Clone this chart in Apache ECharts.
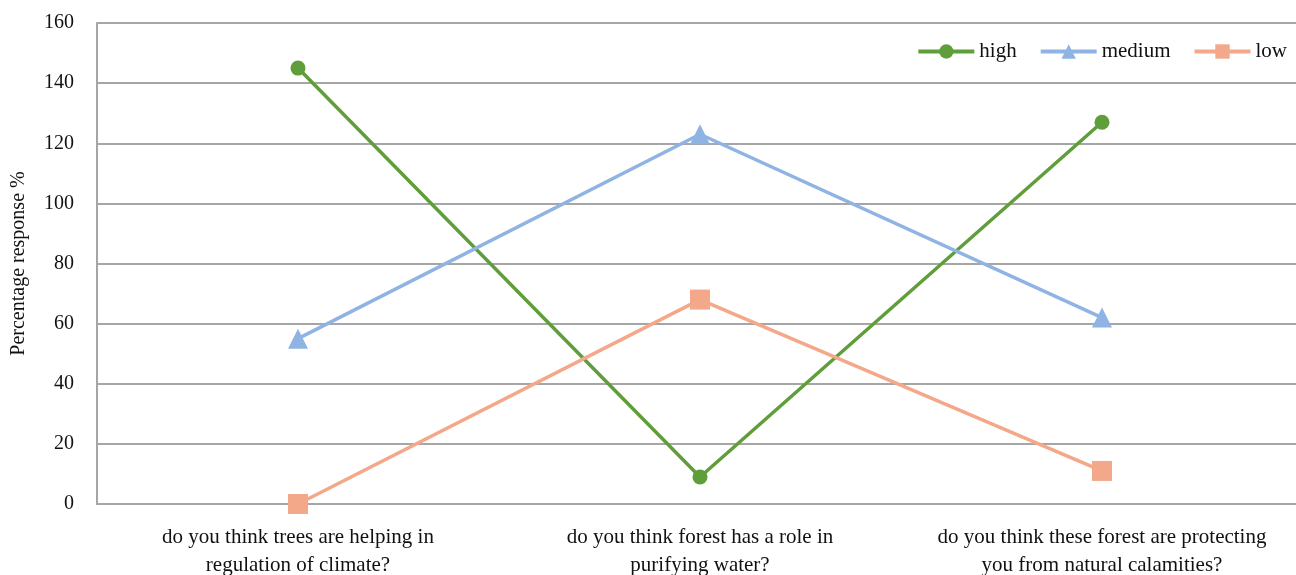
<!DOCTYPE html>
<html>
<head>
<meta charset="utf-8">
<script src="https://cdn.jsdelivr.net/npm/echarts@6/dist/echarts.min.js"></script>
<style>html,body{margin:0;padding:0;background:#fff;}#c{width:1296px;height:575px;}</style>
</head>
<body>
<div id="c"></div>
<script>
const categories = [
  "do you think trees are helping in\nregulation of climate?",
  "do you think forest has a role in\npurifying water?",
  "do you think these forest are protecting\nyou from natural calamities?"
];
const high = [145, 9, 127];
const medium = [55, 123, 62];
const low = [0, 68, 11];
const yTicks = [0, 20, 40, 60, 80, 100, 120, 140, 160];

const font = "'Liberation Serif','Times New Roman',serif";
const chart = echarts.init(document.getElementById('c'), null, {renderer: 'canvas'});
chart.setOption({
  animation: false,
  backgroundColor: '#fff',
  textStyle: {fontFamily: font},
  legend: {
    right: 4, top: 36,
    itemWidth: 56, itemHeight: 18, itemGap: 22,
    lineStyle: {width: 4},
    textStyle: {fontFamily: font, fontSize: 21, color: '#111'},
    data: ['high', 'medium', 'low']
  },
  grid: {left: 97, right: -7, top: 23, bottom: 71, containLabel: false, outerBoundsMode: 'none'},
  xAxis: {
    type: 'category',
    data: categories,
    boundaryGap: true,
    axisLine: {show: true, lineStyle: {color: '#a6a6a6', width: 2}},
    axisTick: {show: false},
    axisLabel: {fontFamily: font, fontSize: 21, color: '#111', lineHeight: 28, margin: 19, interval: 0}
  },
  yAxis: {
    type: 'value',
    min: yTicks[0], max: yTicks[yTicks.length - 1], interval: 20,
    name: 'Percentage response %',
    nameLocation: 'middle',
    nameGap: 68,
    nameTextStyle: {fontFamily: font, fontSize: 20, color: '#111'},
    axisLine: {show: true, lineStyle: {color: '#a6a6a6', width: 2}},
    axisTick: {show: false},
    splitLine: {show: true, lineStyle: {color: '#a6a6a6', width: 2}},
    axisLabel: {fontFamily: font, fontSize: 20, color: '#111', margin: 23}
  },
  series: [
    {name: 'high', type: 'line', data: high, symbol: 'circle', symbolSize: 15,
     color: '#5f9e3a', lineStyle: {width: 3.5, color: '#5f9e3a'}, itemStyle: {color: '#5f9e3a'}},
    {name: 'medium', type: 'line', data: medium, symbol: 'triangle', symbolSize: 20,
     color: '#8fb4e3', lineStyle: {width: 3.5, color: '#8fb4e3'}, itemStyle: {color: '#8fb4e3'}},
    {name: 'low', type: 'line', data: low, symbol: 'rect', symbolSize: 20,
     color: '#f4a88a', lineStyle: {width: 3.5, color: '#f4a88a'}, itemStyle: {color: '#f4a88a'}}
  ]
});
</script>
</body>
</html>
